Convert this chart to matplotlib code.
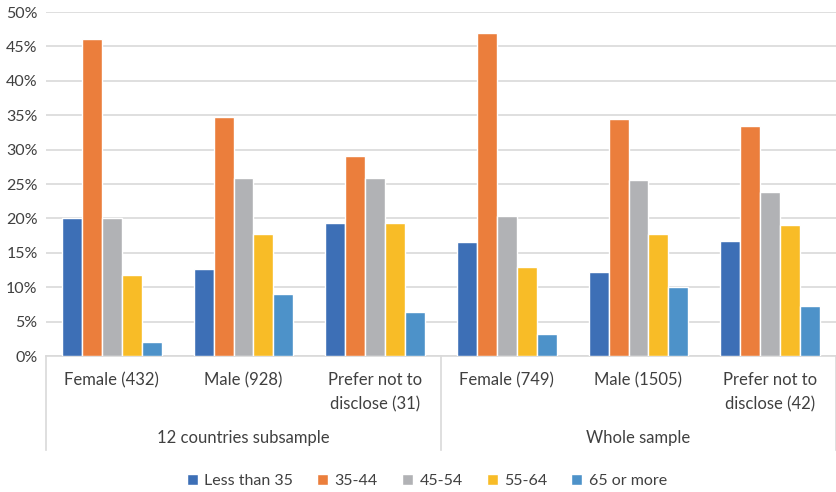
import numpy as np
import matplotlib.pyplot as plt
from matplotlib.ticker import PercentFormatter

plt.rcParams['font.family'] = ['Lato', 'DejaVu Sans']

categories = ['Female (432)', 'Male (928)', 'Prefer not to\ndisclose (31)',
              'Female (749)', 'Male (1505)', 'Prefer not to\ndisclose (42)']
groups = ['12 countries subsample', 'Whole sample']
ages = ['Less than 35', '35-44', '45-54', '55-64', '65 or more']

less35 = [20.1, 12.7, 19.4, 16.5, 12.2, 16.7]
age35_44 = [46.1, 34.8, 29.0, 46.9, 34.5, 33.4]
age45_54 = [20.0, 25.8, 25.9, 20.4, 25.6, 23.8]
age55_64 = [11.8, 17.8, 19.4, 13.0, 17.8, 19.1]
over65 = [2.1, 9.0, 6.4, 3.2, 10.0, 7.2]

colors = ['#3D6FB6', '#EB7E3C', '#B1B2B5', '#F8BC27', '#4D92C9']

fig = plt.figure(figsize=(8.37, 4.92), dpi=100)
ax = fig.add_axes([46/837, 136/492, 790/837, 344/492])

x = np.arange(len(categories))
pitch = 0.1515
series = [less35, age35_44, age45_54, age55_64, over65]
for i, (vals, c, lab) in enumerate(zip(series, colors, ages)):
    ax.bar(x + (i - 2) * pitch, vals, width=pitch, color=c, edgecolor='white',
           linewidth=1.0, label=lab, zorder=3)

ax.set_xlim(-0.5, 5.5)
ax.set_ylim(0, 50)
ax.set_yticks(np.arange(0, 51, 5))
ax.yaxis.set_major_formatter(PercentFormatter(decimals=0))
ax.tick_params(axis='y', length=0, labelsize=11.5, labelcolor='#404040', pad=6)
ax.set_xticks([])
ax.grid(axis='y', color='#D9D9D9', linewidth=1.2, zorder=0)
for s in ['top', 'right', 'left']:
    ax.spines[s].set_visible(False)
ax.spines['bottom'].set_color('#D9D9D9')
ax.spines['bottom'].set_linewidth(1.2)

# two-level category axis below the plot
tr = ax.get_xaxis_transform()
for xv in [-0.5, 2.5, 5.5]:
    ax.plot([xv, xv], [0, -94/344], transform=tr, color='#D9D9D9',
            linewidth=1.2, clip_on=False)
for xv, lab in zip(x, categories):
    ax.text(xv, -16/344, lab, transform=tr, ha='center', va='top',
            fontsize=12, color='#404040', linespacing=1.6)
for xv, lab in zip([1, 4], groups):
    ax.text(xv, -82/344, lab, transform=tr, ha='center', va='center',
            fontsize=12, color='#404040')

ax.legend(loc='center', bbox_to_anchor=(0.482, -125/344), ncol=5, frameon=False,
          fontsize=11.5, handlelength=0.7, handleheight=0.7, handletextpad=0.4,
          columnspacing=1.5, labelcolor='#404040')

fig.savefig('out.png', dpi=100)
